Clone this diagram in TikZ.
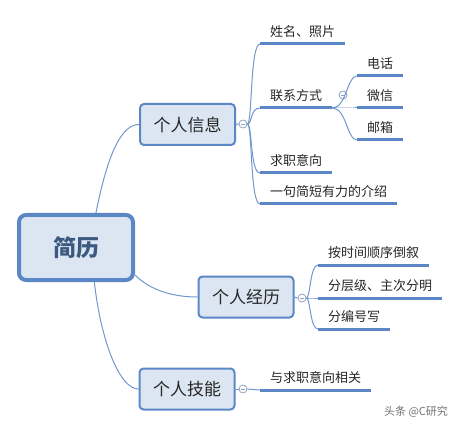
\documentclass[tikz,border=0pt]{standalone}
\usepackage{fontspec}
\setmainfont{Noto Sans CJK SC}
\usetikzlibrary{calc}
\definecolor{lineblue}{HTML}{5B87C6}
\definecolor{linkblue}{HTML}{7097CE}
\definecolor{boxfill}{HTML}{DCE6F2}
\definecolor{foldgray}{HTML}{8DA3C0}
\definecolor{roottext}{HTML}{3C5A80}
\definecolor{leaftext}{HTML}{262626}

\begin{document}
\begin{tikzpicture}[x=1pt,y=-1pt,
    root/.style={draw=lineblue,line width=4pt,fill=boxfill,rounded corners=7pt,
      minimum width=114pt,minimum height=65pt,text=roottext,
      font=\fontsize{23}{23}\selectfont\bfseries},
    branch/.style={draw=lineblue,line width=2pt,fill=boxfill,rounded corners=4pt,
      minimum width=95pt,minimum height=41pt,text=leaftext,
      font=\fontsize{17}{17}\selectfont},
    uline/.style={draw=lineblue,line width=3pt,-},
    leaf/.style={anchor=south west,inner xsep=10pt,inner ysep=4pt,
      text height=10pt,text depth=3pt,text=leaftext,
      font=\fontsize{13}{13}\selectfont,
      append after command={(\tikzlastnode.south west) edge[uline] (\tikzlastnode.south east)}},
    fold/.style={circle,draw=foldgray,fill=white,line width=0.8pt,minimum size=8pt,inner sep=0pt,
      path picture={\draw[foldgray,line width=0.8pt]
        ($(path picture bounding box.west)+(2pt,0)$) -- ($(path picture bounding box.east)+(-2pt,0)$);}},
    link/.style={draw=linkblue,line width=1pt},
    wm/.style={text=black!55,font=\fontsize{11}{11}\selectfont}]
  \useasboundingbox (0,0) rectangle (462,427);

  \node[root] (cv) at (76,247.5) {简历};
  \node[branch] (info) at (187.5,124.5) {个人信息};
  \node[branch] (exp) at (246,297) {个人经历};
  \node[branch] (skill) at (187,389) {个人技能};

  \node[fold] (f1) at (243,124) {};
  \node[fold] (f2) at (302,298) {};
  \node[fold] (f3) at (243,389) {};
  \node[fold] (f4) at (343,95) {};

  \node[leaf] (name) at (260,44) {姓名、照片};
  \node[leaf] (contact) at (260,108) {联系方式};
  \node[leaf] (tel) at (357,76) {电话};
  \node[leaf] (wx) at (357,108) {微信};
  \node[leaf] (mail) at (357,140) {邮箱};
  \node[leaf] (intent) at (260,173) {求职意向};
  \node[leaf] (intro) at (260,204) {一句简短有力的介绍};
  \node[leaf] (order) at (318,265) {按时间顺序倒叙};
  \node[leaf] (level) at (318,298) {分层级、主次分明};
  \node[leaf] (num) at (318,329) {分编号写};
  \node[leaf] (rel) at (260,390) {与求职意向相关};

  \node[wm] (wmark) at (416,412) {头条 @C研究};

  \draw[link] (cv.60) .. controls +(10,-50) and +(-20,0) .. (info.west);
  \draw[link] (cv.-25) .. controls +(15,15) and +(-25,0) .. (exp.west);
  \draw[link] (cv.-62) .. controls +(6,55) and +(-20,0) .. (skill.west);

  \draw[link] (info.east) -- (f1.west);
  \draw[link] (exp.east) -- (f2.west);
  \draw[link] (skill.east) -- (f3.west);

  \foreach \n in {name,contact,intent,intro}
    \draw[link] (f1.east) .. controls +(5,0) and +(-10,0) .. (\n.south west);
  \foreach \n in {tel,wx,mail}
    \draw[link] (contact.south east) .. controls +(14,0) and +(-10,0) .. (\n.south west);
  \foreach \n in {order,level,num}
    \draw[link] (f2.east) .. controls +(4,0) and +(-8,0) .. (\n.south west);
  \draw[link] (f3.east) -- (rel.south west);
\end{tikzpicture}
\end{document}
